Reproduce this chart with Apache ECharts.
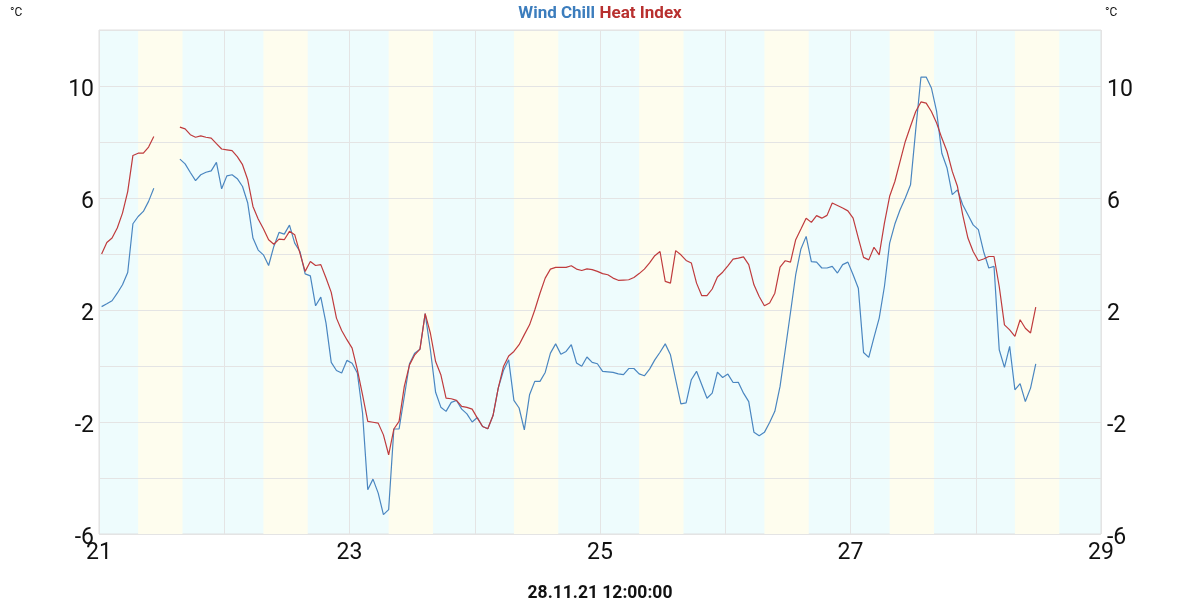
<!DOCTYPE html>
<html>
<head>
<meta charset="utf-8">
<script src="https://cdn.jsdelivr.net/npm/echarts@6/dist/echarts.min.js"></script>
<style>
  html, body { margin: 0; padding: 0; background: #fff; }
  #chart { width: 1200px; height: 600px; }
</style>
</head>
<body>
<div id="chart"></div>
<script>
// hourly readings from 21.11. 00:30 on (one value per hour), null = no data
var startDay = 21;
var windChill = [
    2.12, 2.22, 2.33, 2.6, 2.9, 3.34, 5.08, 5.34, 5.52, 5.88, 6.35, null, null, null, null,
    7.39, 7.22, 6.91, 6.62, 6.83, 6.92, 6.97, 7.27, 6.33, 6.79, 6.83, 6.69, 6.41, 5.82, 4.57,
    4.14, 3.97, 3.59, 4.27, 4.77, 4.71, 5.03, 4.39, 4.09, 3.29, 3.22, 2.15, 2.46, 1.53, 0.13,
    -0.16, -0.25, 0.20, 0.10, -0.25, -1.68, -4.42, -4.04, -4.54, -5.31, -5.13, -2.25, -2.25, -1.09, 0.08,
    0.46, 0.60, 1.87, 0.58, -0.94, -1.47, -1.62, -1.30, -1.23, -1.54, -1.71, -2.0, -1.84, -2.16, -2.24,
    -1.77, -0.79, -0.16, 0.22, -1.23, -1.50, -2.28, -1.03, -0.55, -0.55, -0.23, 0.46, 0.79, 0.42, 0.52,
    0.76, 0.11, -0.01, 0.32, 0.13, 0.08, -0.19, -0.21, -0.23, -0.28, -0.31, -0.09, -0.09, -0.28, -0.35,
    -0.11, 0.22, 0.49, 0.79, 0.40, -0.49, -1.35, -1.32, -0.49, -0.19, -0.67, -1.15, -0.97, -0.22, -0.41,
    -0.29, -0.59, -0.58, -0.97, -1.27, -2.37, -2.49, -2.37, -2.02, -1.62, -0.73, 0.58, 1.91, 3.26, 4.18,
    4.63, 3.73, 3.71, 3.50, 3.50, 3.56, 3.32, 3.62, 3.71, 3.26, 2.78, 0.48, 0.31, 1.02, 1.71,
    2.84, 4.39, 5.07, 5.58, 6.0, 6.47, 8.44, 10.32, 10.32, 9.93, 9.09, 7.60, 7.07, 6.12, 6.29,
    5.76, 5.40, 5.04, 4.87, 4.09, 3.50, 3.56, 0.58, -0.05, 0.70, -0.85, -0.63, -1.27, -0.79, 0.08
];
var heatIndex = [
    4.0, 4.41, 4.57, 4.93, 5.46, 6.23, 7.52, 7.60, 7.60, 7.82, 8.2, null, null, null, null,
    8.53, 8.47, 8.26, 8.17, 8.22, 8.17, 8.14, 7.94, 7.75, 7.72, 7.69, 7.48, 7.19, 6.65, 5.70,
    5.25, 4.9, 4.51, 4.35, 4.53, 4.51, 4.81, 4.69, 4.03, 3.38, 3.73, 3.59, 3.62, 3.14, 2.63,
    1.71, 1.27, 0.94, 0.64, -0.13, -1.03, -1.98, -2.01, -2.04, -2.46, -3.17, -2.25, -1.98, -0.73, 0.04,
    0.40, 0.60, 1.87, 1.17, 0.16, -0.31, -1.15, -1.17, -1.23, -1.44, -1.48, -1.54, -1.86, -2.16, -2.24,
    -1.77, -0.79, -0.02, 0.36, 0.52, 0.76, 1.12, 1.47, 2.0, 2.6, 3.14, 3.46, 3.52, 3.52, 3.52,
    3.58, 3.46, 3.41, 3.47, 3.44, 3.38, 3.30, 3.26, 3.14, 3.06, 3.07, 3.08, 3.16, 3.30, 3.46,
    3.68, 3.94, 4.09, 3.02, 2.96, 4.12, 3.97, 3.77, 3.68, 2.96, 2.51, 2.51, 2.75, 3.18, 3.35,
    3.58, 3.82, 3.85, 3.90, 3.62, 2.90, 2.48, 2.15, 2.25, 2.60, 3.53, 3.76, 3.71, 4.51, 4.89,
    5.28, 5.13, 5.37, 5.28, 5.38, 5.82, 5.73, 5.64, 5.54, 5.28, 4.57, 3.88, 3.79, 4.24, 3.97,
    5.10, 6.06, 6.59, 7.31, 8.02, 8.56, 9.09, 9.43, 9.39, 9.09, 8.68, 8.14, 7.66, 6.95, 6.41,
    5.40, 4.57, 4.09, 3.76, 3.82, 3.91, 3.91, 2.84, 1.47, 1.29, 1.06, 1.65, 1.35, 1.18, 2.10
];
// daylight (hours of day), shaded yellow
var sunriseHour = 7.5;
var sunsetHour = 16.0;
var days = [21, 22, 23, 24, 25, 26, 27, 28];

var blue = '#4a86c0';
var red = '#bf3b3d';

function toPoints(values) {
    return values.map(function (v, i) {
        return [startDay + (i + 0.5) / 24, v == null ? '-' : v];
    });
}

var dayBands = days.map(function (d) {
    return [{ xAxis: d + sunriseHour / 24 }, { xAxis: d + sunsetHour / 24 }];
});

var yAxisBase = {
    type: 'value',
    min: -6,
    max: 12,
    interval: 2,
    z: 2,
    axisLine: { show: false },
    axisTick: { show: false },
    splitLine: { lineStyle: { color: '#e4e4e4', width: 1 } },
    axisLabel: {
        color: '#111',
        fontSize: 23,
        fontFamily: 'Roboto',
        margin: 5,
        formatter: function (v) {
            return (v + 6) % 4 === 0 && v < 12 ? '{t|' + v + '}' : '';
        },
        rich: {
            t: { fontSize: 23, color: '#111', fontFamily: 'Roboto', padding: [8, 0, 0, 0] }
        }
    }
};

var chart = echarts.init(document.getElementById('chart'));
chart.setOption({
    animation: false,
    textStyle: { fontFamily: 'Roboto' },
    title: [{
        text: '{b|Wind Chill} {r|Heat Index}',
        left: 'center',
        top: 0,
        textStyle: {
            rich: {
                b: { color: '#3c7dbd', fontSize: 17, fontWeight: 'bold', fontFamily: 'Roboto' },
                r: { color: '#b8302f', fontSize: 17, fontWeight: 'bold', fontFamily: 'Roboto' }
            }
        }
    }, {
        text: '°C',
        left: 5,
        top: 2,
        textStyle: { fontSize: 12, fontWeight: 'normal', color: '#111' }
    }, {
        text: '°C',
        left: 1100,
        top: 2,
        textStyle: { fontSize: 12, fontWeight: 'normal', color: '#111' }
    }, {
        text: '28.11.21 12:00:00',
        left: 'center',
        top: 580,
        textStyle: { fontSize: 17.5, fontWeight: 'bold', color: '#111' }
    }],
    grid: {
        left: 99,
        right: 99,
        top: 30,
        bottom: 66,
        show: true,
        backgroundColor: '#eefcfd',
        borderColor: '#e0e0e0',
        borderWidth: 1
    },
    xAxis: {
        type: 'value',
        min: 21,
        max: 29,
        interval: 1,
        z: 2,
        axisLine: { show: false },
        axisTick: { show: false },
        splitLine: { lineStyle: { color: '#e4e4e4', width: 1 } },
        axisLabel: {
            color: '#111',
            fontSize: 23,
            margin: 8,
            formatter: function (v) {
                return v % 2 === 1 ? String(v) : '';
            }
        }
    },
    yAxis: [
        Object.assign({ position: 'left' }, yAxisBase),
        Object.assign({ position: 'right' }, yAxisBase, {
            splitLine: { show: false },
            axisLabel: Object.assign({}, yAxisBase.axisLabel, { margin: 6 })
        })
    ],
    series: [{
        name: 'daylight',
        type: 'line',
        data: [],
        z: 1,
        silent: true,
        markArea: {
            silent: true,
            itemStyle: { color: '#fefdee' },
            data: dayBands
        }
    }, {
        name: 'Wind Chill',
        type: 'line',
        data: toPoints(windChill),
        showSymbol: false,
        connectNulls: false,
        z: 3,
        lineStyle: { color: blue, width: 1.2 },
        itemStyle: { color: blue }
    }, {
        name: 'Heat Index',
        type: 'line',
        data: toPoints(heatIndex),
        showSymbol: false,
        connectNulls: false,
        z: 3,
        lineStyle: { color: red, width: 1.2 },
        itemStyle: { color: red }
    }]
});
</script>
</body>
</html>
